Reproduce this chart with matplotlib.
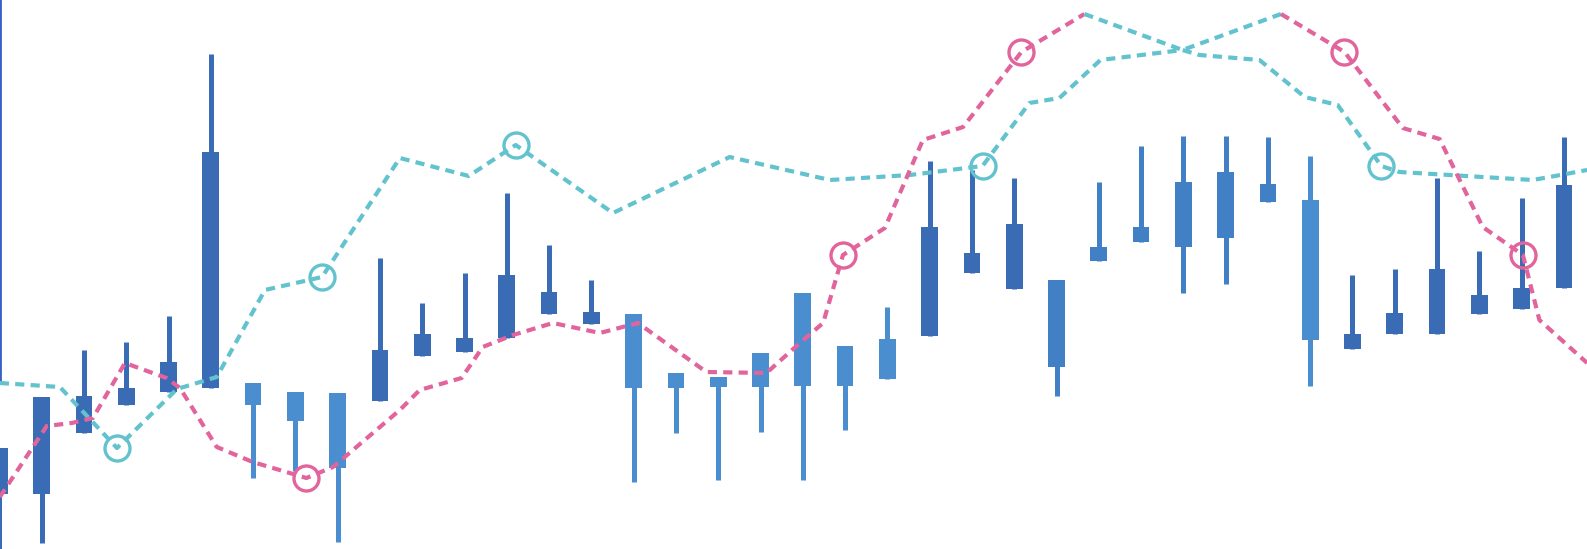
"""Stylised candlestick chart with two dashed moving-average lines."""
import matplotlib
matplotlib.use("Agg")
import matplotlib.pyplot as plt

# candle values (price units), one entry per session
body_top = [10.1, 15.2, 15.3, 16.1, 18.7, 39.7, 16.6, 15.7, 15.6, 19.9,
            21.5, 21.1, 27.4, 25.7, 23.7, 23.5, 17.6, 17.2, 19.6, 25.6,
            20.3, 21.0, 32.2, 29.6, 32.5, 26.9, 30.2, 32.2, 36.7, 37.7,
            36.5, 34.9, 21.5, 23.6, 28.0, 25.4, 26.1, 36.4]
body_bottom = [5.5, 5.5, 11.6, 14.4, 15.7, 16.1, 14.4, 12.8, 8.1, 14.8,
               19.3, 19.7, 21.1, 23.5, 22.5, 16.1, 16.1, 16.2, 16.2, 16.3,
               16.3, 17.0, 21.3, 27.6, 26.0, 18.2, 28.8, 30.7, 30.2, 31.1,
               34.7, 20.9, 20.0, 21.5, 21.5, 23.5, 24.0, 26.1]
highs = [10.1, 15.2, 19.9, 20.7, 23.3, 49.5, 16.6, 15.7, 15.6, 29.1,
         24.6, 27.6, 35.6, 30.4, 26.9, 23.5, 17.6, 17.2, 19.6, 25.6,
         20.3, 24.2, 38.8, 37.9, 37.1, 26.9, 36.7, 40.3, 41.3, 41.3,
         41.2, 39.3, 27.4, 28.0, 37.1, 29.8, 35.1, 41.2]
lows = [0.0, 0.6, 11.6, 14.4, 15.7, 16.1, 7.1, 7.8, 0.7, 14.8,
        19.3, 19.7, 21.1, 23.5, 22.5, 6.7, 11.6, 6.9, 11.7, 6.9,
        11.9, 17.0, 21.3, 27.6, 26.0, 15.3, 28.8, 30.7, 25.6, 26.5,
        34.7, 16.3, 20.0, 21.5, 21.5, 23.5, 24.0, 26.1]
# shade group of each candle: 0 dark, 1 medium, 2 light
shade = [0, 0, 0, 0, 0, 0, 2, 2, 2, 0, 0, 0, 0, 0, 0, 2, 2, 2, 2, 2,
         2, 2, 0, 0, 0, 1, 1, 1, 1, 1, 1, 2, 0, 0, 0, 0, 0, 0]

# cyan line
cyan_x = [0.01, 1.43, 2.78, 4.20, 5.14, 6.28, 7.63, 9.47, 11.10, 12.21,
          14.51, 17.27, 19.64, 21.53, 23.25, 24.36, 25.07, 26.04, 27.98,
          28.38, 29.80, 30.87, 31.65, 32.68, 33.11, 36.26, 36.66, 37.55]
cyan_y = [16.6, 16.2, 10.1, 16.0, 17.2, 25.9, 27.2, 39.1, 37.3, 40.4,
          33.6, 39.2, 36.9, 37.4, 38.3, 44.6, 45.1, 48.9, 49.9,
          49.4, 48.9, 45.2, 44.4, 38.3, 37.7, 36.9, 37.2, 37.9]
cyan_marks = [2, 6, 9, 14, 23]

# pink line
pink_x = [0.01, 1.12, 1.71, 2.21, 2.97, 3.95, 4.27, 5.14, 5.99, 7.26,
          7.89, 9.47, 9.94, 10.93, 11.43, 12.15, 13.09, 14.20, 15.10, 16.72,
          18.14, 18.93, 19.48, 19.95, 20.94, 21.84, 22.79, 24.17, 25.66, 27.98,
          30.31, 31.81, 33.19, 34.06, 35.08, 36.03, 36.42, 37.55]
pink_y = [5.2, 12.3, 12.6, 13.1, 18.6, 17.1, 16.1, 10.2, 8.7, 7.1,
          8.2, 13.9, 15.9, 17.1, 20.2, 21.4, 22.6, 21.6, 22.6, 17.7,
          17.6, 20.6, 22.6, 29.4, 32.1, 40.9, 42.2, 49.7, 53.5, 49.9,
          53.5, 49.7, 42.1, 41.0, 32.2, 29.4, 22.9, 18.6]
pink_marks = [9, 23, 27, 31, 35]
pink_peaks = (28, 30)  # stretch between the two tops is drawn in cyan

CANDLE_COLORS = ["#3a6cb6", "#4180c5", "#4a8ecf"]
CYAN = "#62c3cf"
PINK = "#e2649c"

fig = plt.figure(figsize=(15.87, 5.49), dpi=100)
ax = fig.add_axes([0, 0, 1, 1])

idx = list(range(len(body_top)))
colors = [CANDLE_COLORS[s] for s in shade]
ax.vlines(idx, lows, highs, colors=colors, linewidth=3.6, zorder=2)
ax.bar(idx, [t - b for t, b in zip(body_top, body_bottom)], bottom=body_bottom,
       width=0.395, color=colors, linewidth=0, zorder=2)

dash = dict(linewidth=3.0, dashes=(2.2, 1.5), dash_capstyle="butt", zorder=3)
a, b = pink_peaks
ax.plot(cyan_x, cyan_y, color=CYAN, **dash)
ax.plot(pink_x[:a + 1], pink_y[:a + 1], color=PINK, **dash)
ax.plot(pink_x[a:b + 1], pink_y[a:b + 1], color=CYAN, **dash)
ax.plot(pink_x[b:], pink_y[b:], color=PINK, **dash)

ax.plot([cyan_x[i] for i in cyan_marks], [cyan_y[i] for i in cyan_marks], "o",
        ms=18, mfc="none", mec=CYAN, mew=2.4, zorder=4)
ax.plot([pink_x[i] for i in pink_marks], [pink_y[i] for i in pink_marks], "o",
        ms=18, mfc="none", mec=PINK, mew=2.4, zorder=4)

ax.set_xlim(0.014, 37.546)
ax.set_ylim(0, 54.9)
for side in ("top", "right", "bottom"):
    ax.spines[side].set_visible(False)
ax.spines["left"].set_color("#3a5fc8")
ax.spines["left"].set_linewidth(2.0)
ax.spines["left"].set_bounds(16.7, 54.9)
ax.set_xticks([])
ax.set_yticks([])

fig.savefig("out.png", dpi=100)
